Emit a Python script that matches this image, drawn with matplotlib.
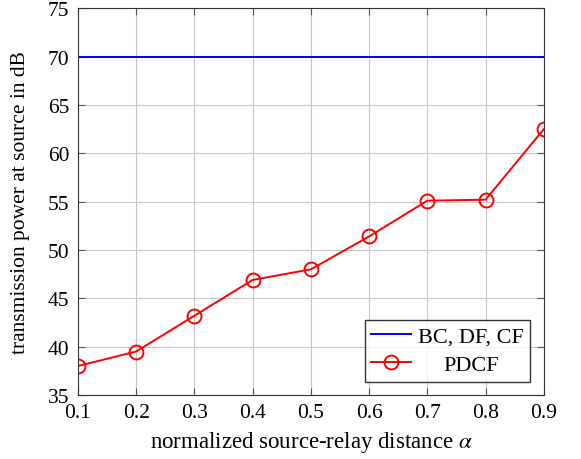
import numpy as np
import matplotlib
matplotlib.use("Agg")
import matplotlib.pyplot as plt

# =============================
# DATA
# =============================
alpha = [0.1, 0.2, 0.3, 0.4, 0.5, 0.6, 0.7, 0.8, 0.9]
bc_df_cf = [70, 70, 70, 70, 70, 70, 70, 70, 70]
pdcf = [38.0, 39.5, 43.2, 46.9, 48.0, 51.4, 55.1, 55.2, 62.5]

x_ticks = [0.1, 0.2, 0.3, 0.4, 0.5, 0.6, 0.7, 0.8, 0.9]
y_ticks = [35, 40, 45, 50, 55, 60, 65, 70, 75]

# =============================
# STYLE
# =============================
plt.rcParams['font.family'] = ['Liberation Serif', 'DejaVu Serif']
plt.rcParams['mathtext.fontset'] = 'stix'

fig = plt.figure(figsize=(5.81, 4.6), dpi=100)
ax = fig.add_axes([0.134, 0.139, 0.802, 0.841])

ax.plot(alpha, bc_df_cf, color='blue', lw=1.4, label='BC, DF, CF')
ax.plot(alpha, pdcf, color='red', lw=1.4, marker='o', markersize=10,
        markerfacecolor='none', markeredgewidth=1.4, label='PDCF')

ax.set_xlim(0.1, 0.9)
ax.set_ylim(35, 75)
ax.set_xticks(x_ticks)
ax.set_yticks(y_ticks)
ax.set_xticklabels([f"{v:.1f}" for v in x_ticks])
ax.grid(True, color='#c8c8c8', lw=0.8)
ax.set_axisbelow(True)
ax.tick_params(direction='in', top=True, right=True, length=5, color='#555555',
               labelsize=15.5, pad=6)
for s in ax.spines.values():
    s.set_color('#333333')

ax.set_xlabel(r"normalized source-relay distance $\alpha$", fontsize=16.5, labelpad=5)
ax.set_ylabel("transmission power at source in dB", fontsize=15.5, labelpad=13)

leg = ax.legend(loc='lower right', fancybox=False, edgecolor='black',
                fontsize=16, handlelength=1.8, handletextpad=0.3,
                borderpad=0.3, labelspacing=0.35, borderaxespad=0.6)
leg.get_frame().set_linewidth(1.0)

# centre the shorter legend entry like the original
fig.canvas.draw()
r = fig.canvas.get_renderer()
texts = leg.get_texts()
w0 = texts[0].get_window_extent(r).width
w1 = texts[1].get_window_extent(r).width
texts[1].set_x((w0 - w1) / 2)

fig.savefig("out.png", dpi=100)
